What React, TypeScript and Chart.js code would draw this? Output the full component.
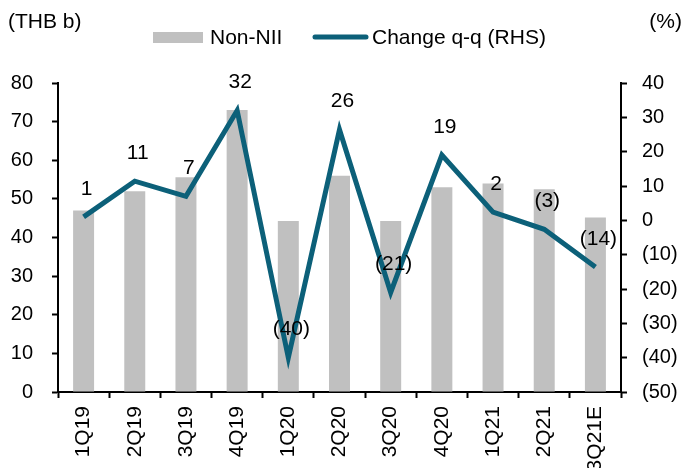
import React, { useEffect, useRef } from "react";
import { Chart, registerables } from "chart.js";

Chart.register(...registerables);

const categories = ["1Q19", "2Q19", "3Q19", "4Q19", "1Q20", "2Q20", "3Q20", "4Q20", "1Q21", "2Q21", "3Q21E"];
const nonNii = [47, 52, 55.6, 73, 44.3, 56, 44.3, 53, 54, 52.5, 45.2];
const changeQq = [1, 11.4, 7, 32, -40, 26.4, -21, 19, 2.4, -2.6, -13.6];
const leftTitle = "(THB b)";
const rightTitle = "(%)";

const BAR_COLOR = "#C0C0C0";
const LINE_COLOR = "#0C6079";
const FONT = "'Liberation Sans', Arial, sans-serif";

const fmt = (v: number) => {
  const r = Math.round(v);
  return r < 0 ? `(${Math.abs(r)})` : `${r}`;
};

const overlay = {
  id: "overlay",
  afterDatasetsDraw(chart: any) {
    const ctx = chart.ctx;
    ctx.save();
    ctx.font = `21px ${FONT}`;
    ctx.fillStyle = "#000";
    ctx.textAlign = "center";
    ctx.textBaseline = "middle";
    const meta = chart.getDatasetMeta(1);
    meta.data.forEach((pt: any, i: number) => {
      ctx.fillText(fmt(changeQq[i]), pt.x + 3, pt.y - 28);
    });
    ctx.textAlign = "left";
    ctx.fillText(leftTitle, 8, 22);
    ctx.textAlign = "right";
    ctx.fillText(rightTitle, 682, 22);
    // legend
    const ds = chart.data.datasets;
    ctx.fillStyle = BAR_COLOR;
    ctx.fillRect(153, 32, 50, 11);
    ctx.fillStyle = "#000";
    ctx.textAlign = "left";
    ctx.fillText(ds[0].label, 210, 38);
    ctx.strokeStyle = LINE_COLOR;
    ctx.lineWidth = 5;
    ctx.lineCap = "round";
    ctx.beginPath();
    ctx.moveTo(315, 37);
    ctx.lineTo(366, 37);
    ctx.stroke();
    ctx.fillText(ds[1].label, 372, 38);
    ctx.restore();
  },
};

export default function App() {
  const ref = useRef<HTMLCanvasElement>(null);
  useEffect(() => {
    document.body.style.margin = "0";
    Chart.defaults.font.family = FONT;
    const chart = new Chart(ref.current as HTMLCanvasElement, {
      type: "bar",
      data: {
        labels: categories,
        datasets: [
          {
            type: "bar",
            label: "Non-NII",
            data: nonNii,
            backgroundColor: BAR_COLOR,
            borderWidth: 0,
            categoryPercentage: 1,
            barPercentage: 0.41,
            yAxisID: "y",
            order: 2,
          },
          {
            type: "line",
            label: "Change q-q (RHS)",
            data: changeQq,
            borderColor: LINE_COLOR,
            backgroundColor: LINE_COLOR,
            borderWidth: 5,
            pointRadius: 0,
            tension: 0,
            yAxisID: "y1",
            order: 1,
          } as any,
        ],
      },
      options: {
        responsive: false,
        animation: false,
        layout: { padding: { top: 83, left: 0, right: 0, bottom: 0 } },
        plugins: { legend: { display: false }, tooltip: { enabled: false } },
        scales: {
          x: {
            offset: true,
            grid: {
              display: true,
              drawOnChartArea: false,
              drawTicks: true,
              tickLength: 6,
              tickWidth: 2,
              tickColor: "#000",
              offset: true,
            },
            border: { display: true, color: "#000", width: 2 },
            ticks: {
              color: "#000",
              font: { size: 21 },
              minRotation: 90,
              maxRotation: 90,
              padding: 8,
              autoSkip: false,
            },
            afterFit: (s: any) => {
              s.height = 76;
            },
          },
          y: {
            position: "left",
            min: 0,
            max: 80,
            grid: {
              display: true,
              drawOnChartArea: false,
              drawTicks: true,
              tickLength: 6,
              tickWidth: 2,
              tickColor: "#000",
            },
            border: { display: true, color: "#000", width: 2 },
            ticks: { stepSize: 10, color: "#000", font: { size: 20 }, padding: 19 },
            afterFit: (s: any) => {
              s.width = 58;
            },
          },
          y1: {
            position: "right",
            min: -50,
            max: 40,
            grid: {
              display: true,
              drawOnChartArea: false,
              drawTicks: true,
              tickLength: 6,
              tickWidth: 2,
              tickColor: "#000",
            },
            border: { display: true, color: "#000", width: 2 },
            ticks: {
              stepSize: 10,
              color: "#000",
              font: { size: 20 },
              padding: 15,
              callback: (v: any) => fmt(Number(v)),
            },
            afterFit: (s: any) => {
              s.width = 62;
            },
          },
        },
      },
      plugins: [overlay],
    });
    return () => chart.destroy();
  }, []);
  return (
    <div style={{ position: "absolute", left: 0, top: 0, width: 683, height: 468 }}>
      <canvas ref={ref} width={683} height={468} style={{ display: "block" }} />
    </div>
  );
}
